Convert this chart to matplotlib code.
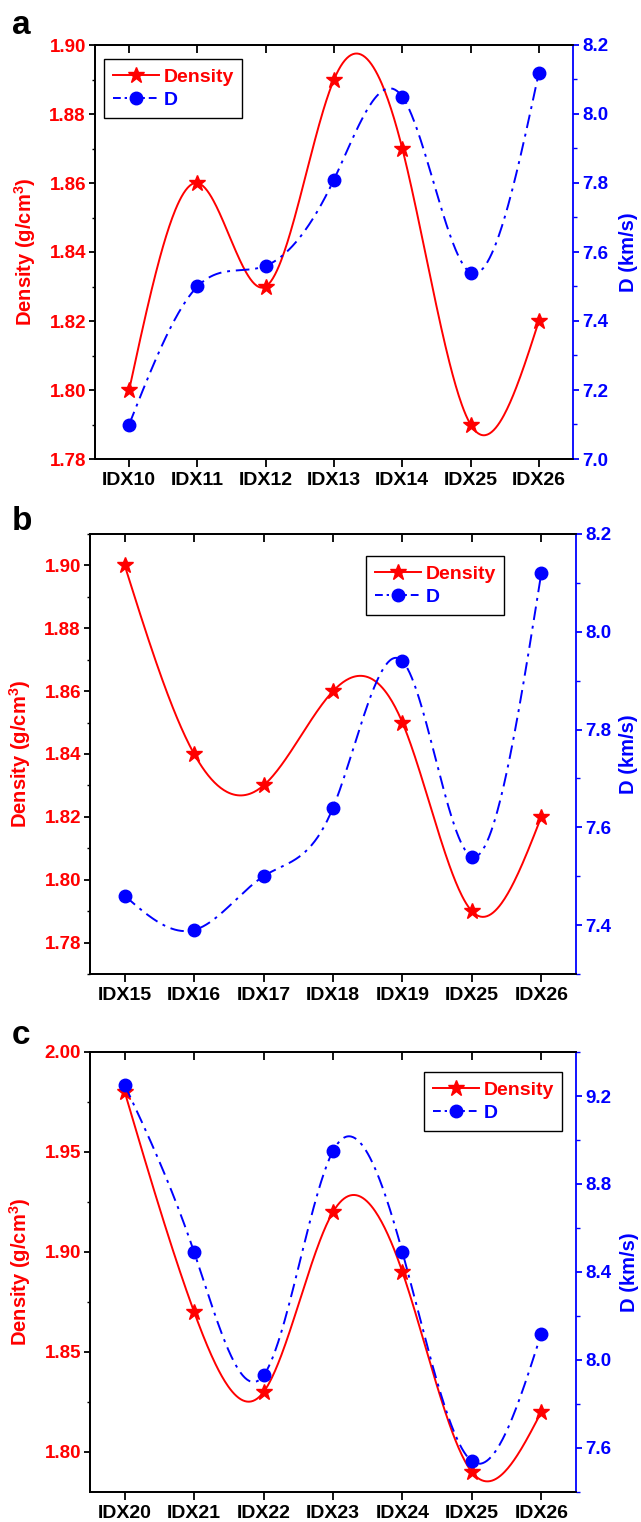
import numpy as np
import matplotlib
matplotlib.use("Agg")
import matplotlib.pyplot as plt
from matplotlib.ticker import MultipleLocator, FormatStrFormatter
from matplotlib.lines import Line2D

# ---------------- data ----------------
cats_a = ["IDX10", "IDX11", "IDX12", "IDX13", "IDX14", "IDX25", "IDX26"]
dens_a = [1.80, 1.86, 1.83, 1.89, 1.87, 1.79, 1.82]
det_a = [7.10, 7.50, 7.56, 7.81, 8.05, 7.54, 8.12]

cats_b = ["IDX15", "IDX16", "IDX17", "IDX18", "IDX19", "IDX25", "IDX26"]
dens_b = [1.90, 1.84, 1.83, 1.86, 1.85, 1.79, 1.82]
det_b = [7.46, 7.39, 7.50, 7.64, 7.94, 7.54, 8.12]

cats_c = ["IDX20", "IDX21", "IDX22", "IDX23", "IDX24", "IDX25", "IDX26"]
dens_c = [1.98, 1.87, 1.83, 1.92, 1.89, 1.79, 1.82]
det_c = [9.25, 8.49, 7.93, 8.95, 8.49, 7.54, 8.12]

FAM = "Liberation Sans"
plt.rcParams['font.family'] = [FAM, 'DejaVu Sans']
plt.rcParams['font.weight'] = 'bold'
plt.rcParams['mathtext.fontset'] = 'custom'
plt.rcParams['mathtext.rm'] = FAM + ':bold'
plt.rcParams['mathtext.default'] = 'rm'


def natural_spline(x, y, n=400):
    x = np.asarray(x, float)
    y = np.asarray(y, float)
    k = len(x)
    h = np.diff(x)
    A = np.zeros((k, k))
    b = np.zeros(k)
    A[0, 0] = 1
    A[-1, -1] = 1
    for i in range(1, k - 1):
        A[i, i - 1] = h[i - 1]
        A[i, i] = 2 * (h[i - 1] + h[i])
        A[i, i + 1] = h[i]
        b[i] = 6 * ((y[i + 1] - y[i]) / h[i] - (y[i] - y[i - 1]) / h[i - 1])
    M = np.linalg.solve(A, b)
    xs = np.linspace(x[0], x[-1], n)
    idx = np.clip(np.searchsorted(x, xs) - 1, 0, k - 2)
    x0, x1 = x[idx], x[idx + 1]
    hh = x1 - x0
    t1 = x1 - xs
    t0 = xs - x0
    ys = (M[idx] * t1 ** 3 / (6 * hh) + M[idx + 1] * t0 ** 3 / (6 * hh)
          + (y[idx] / hh - M[idx] * hh / 6) * t1
          + (y[idx + 1] / hh - M[idx + 1] * hh / 6) * t0)
    return xs, ys


W, H = 641, 1522
fig = plt.figure(figsize=(W / 100, H / 100), dpi=100)


def rect(l, r, t, b):
    return [l / W, 1 - b / H, (r - l) / W, (b - t) / H]


panels = [
    dict(cats=cats_a, dens=dens_a, det=det_a, rect=rect(95, 573, 45, 459),
         yl=(1.78, 1.90), ylmaj=0.02, yr=(7.0, 8.2), yrmaj=0.2,
         leg=(104 / W, 1 - 118 / H), label="a", lab=(12, 26), rpad=8),
    dict(cats=cats_b, dens=dens_b, det=det_b, rect=rect(90, 576, 534, 974),
         yl=(1.77, 1.91), ylmaj=0.02, yr=(7.3, 8.2), yrmaj=0.2,
         leg=(366 / W, 1 - 615 / H), label="b", lab=(12, 521), rpad=6),
    dict(cats=cats_c, dens=dens_c, det=det_c, rect=rect(90, 576, 1052, 1492),
         yl=(1.78, 2.00), ylmaj=0.05, yr=(7.4, 9.4), yrmaj=0.4,
         leg=(424 / W, 1 - 1131 / H), label="c", lab=(12, 1036), rpad=6),
]

RED = "#ff0000"
BLUE = "#0000ff"
DASHDOT = (0, (7, 3, 1.5, 3))

for p in panels:
    ax = fig.add_axes(p["rect"])
    ax2 = ax.twinx()
    x = np.arange(len(p["cats"]))
    xs, ys = natural_spline(x, p["dens"])
    ax.plot(xs, ys, color=RED, lw=1.4, zorder=2)
    ax.plot(x, p["dens"], ls='none', marker='*', ms=12, color=RED, mec=RED, zorder=3)
    xs2, ys2 = natural_spline(x, p["det"])
    ax2.plot(xs2, ys2, color=BLUE, lw=1.4, ls=DASHDOT, zorder=2)
    ax2.plot(x, p["det"], ls='none', marker='o', ms=9, color=BLUE, zorder=3)

    ax.set_xlim(-0.5, 6.5)
    ax.set_ylim(*p["yl"])
    ax2.set_ylim(*p["yr"])
    ax.set_xticks(x)
    ax.set_xticklabels(p["cats"], fontsize=14, fontweight='bold')
    ax.yaxis.set_major_locator(MultipleLocator(p["ylmaj"]))
    ax.yaxis.set_minor_locator(MultipleLocator(p["ylmaj"] / 2))
    ax2.yaxis.set_major_locator(MultipleLocator(p["yrmaj"]))
    ax2.yaxis.set_minor_locator(MultipleLocator(p["yrmaj"] / 2))
    ax.yaxis.set_major_formatter(FormatStrFormatter("%.2f"))
    ax2.yaxis.set_major_formatter(FormatStrFormatter("%.1f"))

    ax.tick_params(axis='x', which='major', bottom=True, top=False, direction='out',
                   length=6, width=1.3, pad=3)
    ax.tick_params(axis='y', which='major', direction='out', length=4.5, width=1.3,
                   labelcolor=RED, labelsize=13.5, pad=2)
    ax.tick_params(axis='y', which='minor', direction='out', length=2.5, width=1.0)
    ax2.tick_params(axis='y', which='major', direction='out', length=4.5, width=1.3,
                    colors=BLUE, labelsize=13.5, pad=2)
    ax2.tick_params(axis='y', which='minor', direction='out', length=3, width=1.0, colors=BLUE)
    ax2.xaxis.set_visible(True)
    ax2.tick_params(axis='x', which='major', bottom=False, top=True, labelbottom=False,
                    labeltop=False, direction='in', length=6, width=1.3)
    for lab in ax.get_yticklabels() + ax2.get_yticklabels():
        lab.set_fontweight('bold')

    for s in ax.spines.values():
        s.set_linewidth(1.3)
    ax.spines['right'].set_visible(False)
    for k in ['left', 'top', 'bottom']:
        ax2.spines[k].set_linewidth(1.3)
    ax2.spines['right'].set_color(BLUE)
    ax2.spines['right'].set_linewidth(1.3)

    ax.set_ylabel("Density (g/cm$^3$)", color=RED, fontsize=14.5, fontweight='bold', labelpad=8)
    ax2.set_ylabel("D (km/s)", color=BLUE, fontsize=14.5, fontweight='bold', labelpad=p["rpad"])

    h1 = Line2D([], [], color=RED, lw=1.4, marker='*', ms=12)
    h2 = Line2D([], [], color=BLUE, lw=1.4, ls=(0, (4, 2, 1.2, 2)), marker='o', ms=9)
    leg = ax2.legend([h1, h2], ["Density", "D"], loc='lower left',
                     bbox_to_anchor=p["leg"], bbox_transform=fig.transFigure,
                     borderaxespad=0, fancybox=False, framealpha=1, edgecolor='black',
                     prop=dict(family=FAM, weight='bold', size=14),
                     handlelength=2.4, handletextpad=0.2, borderpad=0.45,
                     labelspacing=0.3)
    leg.get_frame().set_linewidth(1.0)
    leg.texts[0].set_color(RED)
    leg.texts[1].set_color(BLUE)

    fig.text(p["lab"][0] / W, 1 - p["lab"][1] / H, p["label"], fontsize=24,
             fontweight='bold', family=FAM, va='center', ha='left')

fig.savefig("out.png", dpi=100)
